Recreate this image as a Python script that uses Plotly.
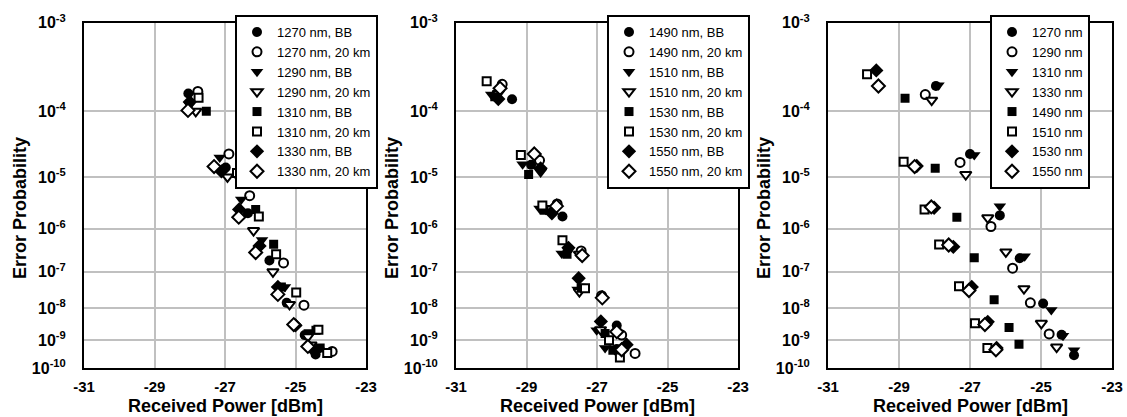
import math
import plotly.graph_objects as go

# ---------------- data: panel A (1270-1330 nm, BB / 20 km) ----------------
A_1270_BB_P = [-28.04, -26.98, -26.35, -25.74, -25.25, -24.74, -24.43]
A_1270_BB_E = [1.7e-4, 1.45e-5, 2.1e-6, 1.9e-7, 1.44e-8, 1.47e-9, 3.2e-10]
A_1270_20_P = [-27.77, -26.89, -26.30, -25.34, -24.76, -23.96]
A_1270_20_E = [1.8e-4, 2.4e-5, 4.6e-6, 1.66e-7, 1.23e-8, 4.1e-10]
A_1290_BB_P = [-28.0, -27.15, -26.54, -25.95, -25.3, -24.6, -24.35]
A_1290_BB_E = [1.2e-4, 2.1e-5, 3.9e-6, 5.7e-7, 4e-8, 1.86e-9, 4.7e-10]
A_1290_20_P = [-27.83, -26.93, -26.19, -25.64, -25.17, -24.65, -24.56]
A_1290_20_E = [1.0e-4, 1.0e-5, 9.2e-7, 1.0e-7, 1.3e-8, 1.3e-9, 6.9e-10]
A_1310_BB_P = [-27.53, -26.6, -26.13, -25.62, -25.4, -24.42, -24.3]
A_1310_BB_E = [1.0e-4, 1.1e-5, 2.5e-6, 4.6e-7, 4e-8, 2.1e-9, 5.4e-10]
A_1310_20_P = [-27.75, -26.66, -26.04, -25.55, -24.98, -24.35, -24.1]
A_1310_20_E = [1.5e-4, 1.17e-5, 1.8e-6, 2.7e-7, 2.8e-8, 2.2e-9, 3.6e-10]
A_1330_BB_P = [-28.0, -27.1, -26.6, -26.02, -25.5, -25.0, -24.45]
A_1330_BB_E = [1.33e-4, 1.24e-5, 2.5e-6, 4.2e-7, 4e-8, 3e-9, 4.1e-10]
A_1330_20_P = [-28.05, -27.31, -26.61, -26.13, -25.5, -25.05, -24.65]
A_1330_20_E = [1.03e-4, 1.5e-5, 1.75e-6, 2.95e-7, 2.5e-8, 3.2e-9, 6.1e-10]

# ---------------- data: panel B (1490-1550 nm, BB / 20 km) ----------------
B_1490_BB_P = [-29.41, -28.87, -27.98, -27.81, -26.44, -26.44]
B_1490_BB_E = [1.44e-4, 1.6e-5, 1.8e-6, 3.5e-7, 3e-9, 5e-10]
B_1490_20_P = [-29.69, -28.63, -28.13, -27.45, -26.87, -26.3, -25.92]
B_1490_20_E = [2.2e-4, 1.9e-5, 3.2e-6, 3.2e-7, 2.3e-8, 1.47e-9, 3.5e-10]
B_1510_BB_P = [-30.0, -29.11, -28.63, -28.0, -27.55, -27.01, -26.77]
B_1510_BB_E = [1.65e-4, 1.64e-5, 2.6e-6, 2.8e-7, 3.4e-8, 2.1e-9, 5.4e-10]
B_1510_20_P = [-29.8, -28.6, -28.45, -27.5, -27.5, -26.9, -26.5]
B_1510_20_E = [1.7e-4, 1.24e-5, 2.6e-6, 2.7e-7, 3.0e-8, 2.2e-9, 5e-10]
B_1530_BB_P = [-29.9, -28.94, -28.5, -27.85, -27.45, -26.77, -26.55]
B_1530_BB_E = [1.55e-4, 1.1e-5, 2.4e-6, 2.7e-7, 3.7e-8, 1.65e-9, 4.5e-10]
B_1530_20_P = [-30.13, -29.16, -28.55, -27.98, -27.34, -26.66, -26.35]
B_1530_20_E = [2.4e-4, 2.3e-5, 3e-6, 5.6e-7, 3.7e-8, 1.0e-9, 2.5e-10]
B_1550_BB_P = [-29.8, -28.6, -28.28, -27.81, -27.52, -26.89, -26.16]
B_1550_BB_E = [1.45e-4, 1.4e-5, 2.1e-6, 3.8e-7, 6.8e-8, 4e-9, 7e-10]
B_1550_20_P = [-29.75, -28.78, -28.15, -27.42, -26.85, -26.44, -26.3]
B_1550_20_E = [1.97e-4, 2.4e-5, 2.9e-6, 2.5e-7, 2.0e-8, 1.9e-9, 4.7e-10]

# ---------------- data: panel C (per wavelength) ----------------
C_1270_P = [-27.96, -27.0, -26.16, -25.6, -24.94, -24.42, -24.07]
C_1270_E = [2.1e-4, 2.4e-5, 1.9e-6, 2.15e-7, 1.38e-8, 1.5e-9, 3e-10]
C_1290_P = [-28.26, -27.28, -26.41, -25.8, -25.3, -24.77]
C_1290_E = [1.65e-4, 1.75e-5, 1.12e-6, 1.23e-7, 1.44e-8, 1.6e-9]
C_1310_P = [-27.89, -26.88, -26.16, -25.46, -24.71, -24.38, -24.07]
C_1310_E = [2.15e-4, 2.3e-5, 2.9e-6, 2.4e-7, 8.9e-9, 1.4e-9, 4.5e-10]
C_1330_P = [-28.08, -27.12, -26.5, -25.99, -25.48, -24.99, -24.56]
C_1330_E = [1.4e-4, 1.1e-5, 1.7e-6, 3.05e-7, 3.6e-8, 3.5e-9, 5.8e-10]
C_1490_P = [-28.83, -27.98, -27.37, -26.88, -26.32, -25.9, -25.62]
C_1490_E = [1.48e-4, 1.4e-5, 1.75e-6, 2.2e-7, 1.78e-8, 2.6e-9, 7.2e-10]
C_1510_P = [-29.9, -28.87, -28.28, -27.87, -27.31, -26.86, -26.51]
C_1510_E = [2.9e-4, 1.8e-5, 2.5e-6, 4.5e-7, 4.2e-8, 3.5e-9, 5.4e-10]
C_1530_P = [-29.64, -28.5, -28.01, -27.47, -26.95, -26.5, -26.25]
C_1530_E = [3.2e-4, 1.53e-5, 2.7e-6, 4e-7, 4e-8, 3.9e-9, 5.4e-10]
C_1550_P = [-29.58, -28.56, -28.09, -27.6, -27.03, -26.58, -26.27]
C_1550_E = [2.1e-4, 1.5e-5, 2.8e-6, 4.4e-7, 3.2e-8, 3.2e-9, 4.7e-10]

X_TICKS = [-31, -29, -27, -25, -23]
Y_DECADES = [3, 4, 5, 6, 7, 8, 9, 10]


# ---------------- BER (Q-scale) axis transform ----------------
def q_of_ber(b):
    lo, hi = 0.0, 40.0
    for _ in range(200):
        mid = 0.5 * (lo + hi)
        if 0.5 * math.erfc(mid / math.sqrt(2)) > b:
            lo = mid
        else:
            hi = mid
    return 0.5 * (lo + hi)


def ypos(b):
    return -math.log10(q_of_ber(b))


FONT = "Liberation Sans, Arial, Helvetica, sans-serif"

series = [
    # panel, name, x, y, symbol, filled, size
    (1, "1270 nm, BB", A_1270_BB_P, A_1270_BB_E, "circle", True, 10),
    (1, "1270 nm, 20 km", A_1270_20_P, A_1270_20_E, "circle", False, 9),
    (1, "1290 nm, BB", A_1290_BB_P, A_1290_BB_E, "triangle-down", True, 11),
    (1, "1290 nm, 20 km", A_1290_20_P, A_1290_20_E, "triangle-down", False, 10),
    (1, "1310 nm, BB", A_1310_BB_P, A_1310_BB_E, "square", True, 9),
    (1, "1310 nm, 20 km", A_1310_20_P, A_1310_20_E, "square", False, 8),
    (1, "1330 nm, BB", A_1330_BB_P, A_1330_BB_E, "diamond", True, 11),
    (1, "1330 nm, 20 km", A_1330_20_P, A_1330_20_E, "diamond", False, 10),
    (2, "1490 nm, BB", B_1490_BB_P, B_1490_BB_E, "circle", True, 10),
    (2, "1490 nm, 20 km", B_1490_20_P, B_1490_20_E, "circle", False, 9),
    (2, "1510 nm, BB", B_1510_BB_P, B_1510_BB_E, "triangle-down", True, 11),
    (2, "1510 nm, 20 km", B_1510_20_P, B_1510_20_E, "triangle-down", False, 10),
    (2, "1530 nm, BB", B_1530_BB_P, B_1530_BB_E, "square", True, 9),
    (2, "1530 nm, 20 km", B_1530_20_P, B_1530_20_E, "square", False, 8),
    (2, "1550 nm, BB", B_1550_BB_P, B_1550_BB_E, "diamond", True, 11),
    (2, "1550 nm, 20 km", B_1550_20_P, B_1550_20_E, "diamond", False, 10),
    (3, "1270 nm", C_1270_P, C_1270_E, "circle", True, 10),
    (3, "1290 nm", C_1290_P, C_1290_E, "circle", False, 9),
    (3, "1310 nm", C_1310_P, C_1310_E, "triangle-down", True, 11),
    (3, "1330 nm", C_1330_P, C_1330_E, "triangle-down", False, 10),
    (3, "1490 nm", C_1490_P, C_1490_E, "square", True, 9),
    (3, "1510 nm", C_1510_P, C_1510_E, "square", False, 8),
    (3, "1530 nm", C_1530_P, C_1530_E, "diamond", True, 11),
    (3, "1550 nm", C_1550_P, C_1550_E, "diamond", False, 10),
]

fig = go.Figure()
for panel, name, xs, es, sym, filled, size in series:
    sfx = "" if panel == 1 else str(panel)
    fig.add_trace(go.Scatter(
        x=xs, y=[ypos(e) for e in es], mode="markers", name=name,
        xaxis="x" + sfx, yaxis="y" + sfx, legend="legend" + sfx,
        marker=dict(symbol=sym, size=size,
                    color="black" if filled else "white",
                    line=dict(color="black", width=0 if filled else 2)),
        hovertext=[f"{e:.2e}" for e in es],
    ))

W, H = 1127, 417
xdoms = [(84, 366), (456, 738), (828, 1112)]
ydom = [(H - 368.3) / H, (H - 22.7) / H]

yvals = [ypos(10.0 ** (-d)) for d in Y_DECADES]
ytext = [f"10<sup>-{d}</sup>" for d in Y_DECADES]

layout = dict(
    template="none",
    width=W, height=H, margin=dict(l=0, r=0, t=0, b=0, pad=0, autoexpand=False),
    paper_bgcolor="white", plot_bgcolor="white",
    font=dict(family=FONT, color="black"),
    showlegend=True,
)
legend_pos = [235, 607, 990]
for i, (x0, x1) in enumerate(xdoms):
    sfx = "" if i == 0 else str(i + 1)
    layout["xaxis" + sfx] = dict(
        domain=[x0 / W, x1 / W], range=[-31, -23], anchor="y" + sfx,
        tickvals=X_TICKS, ticktext=[str(v) for v in X_TICKS],
        tickfont=dict(size=15, weight="bold", family=FONT, color="black"),
        showgrid=True, gridcolor="#c0c0c0", gridwidth=1.6,
        showline=True, mirror=True, linecolor="black", linewidth=2,
        zeroline=False, ticks="", ticklabelstandoff=4, automargin=False,
    )
    layout["yaxis" + sfx] = dict(
        domain=ydom, range=[ypos(1e-10), ypos(1e-3)], anchor="x" + sfx,
        tickvals=yvals, ticktext=ytext,
        tickfont=dict(size=16, weight="bold", family=FONT, color="black"),
        showgrid=True, gridcolor="#c0c0c0", gridwidth=1.6,
        showline=True, mirror=True, linecolor="black", linewidth=2,
        zeroline=False, ticks="", ticklabelstandoff=13, automargin=False,
    )
    layout["legend" + sfx] = dict(
        x=legend_pos[i] / W, y=1 - 15 / H, xanchor="left", yanchor="top",
        bgcolor="white", bordercolor="black", borderwidth=2,
        font=dict(size=13, family=FONT, color="black"),
        tracegroupgap=0,
    )

fig.update_layout(**layout)

annotations = []
for i, (x0, x1) in enumerate(xdoms):
    annotations.append(dict(
        text="Received Power [dBm]", xref="paper", yref="paper",
        x=(x0 + x1) / 2 / W, y=1 - 406 / H, xanchor="center", yanchor="middle",
        showarrow=False, font=dict(size=18, weight="bold", family=FONT),
    ))
    annotations.append(dict(
        text="Error Probability", xref="paper", yref="paper",
        x=(x0 - 64) / W, y=1 - 208 / H, xanchor="center", yanchor="middle",
        textangle=-90, showarrow=False,
        font=dict(size=18, weight="bold", family=FONT),
    ))
fig.update_layout(annotations=annotations)

fig.write_html(
    "out.html",
    config={"displayModeBar": False},
    post_script="document.body.style.margin='0';document.body.style.padding='0';",
)
